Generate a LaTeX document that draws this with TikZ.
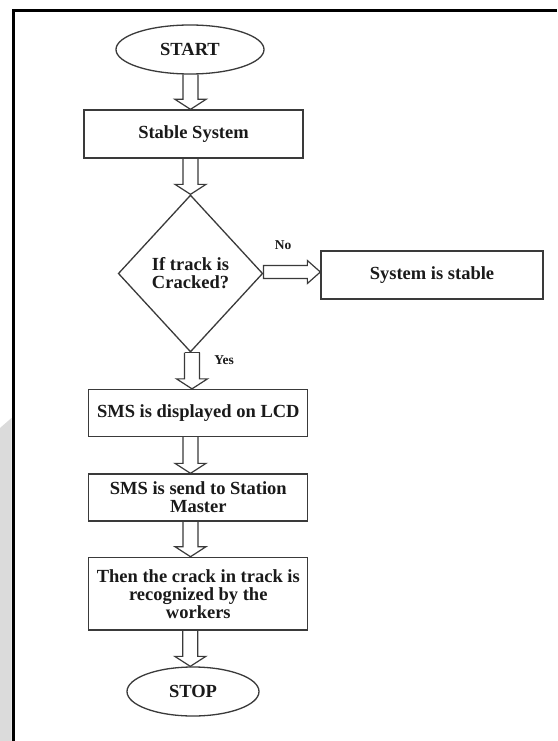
\documentclass[tikz,border=0pt]{standalone}
\usepackage{fontspec}
\setmainfont{Liberation Serif}
\usetikzlibrary{shapes.geometric,calc}
\definecolor{edge}{HTML}{3A3A3A}
\definecolor{ink}{HTML}{1A1A1A}
\tikzset{
  base/.style={draw=edge, line width=1.3pt, text=ink, inner sep=0pt,
    font=\fontsize{18.5}{18}\selectfont\bfseries, align=center},
  oval/.style={base, ellipse},
  procbox/.style={base, rectangle},
  decision/.style={base, diamond},
  lbl/.style={text=ink, inner sep=0pt, font=\fontsize{13.5}{14}\selectfont\bfseries},
  barrow/.style={draw=edge, line width=1.2pt, line join=miter},
}
\newcommand\dnarrow[3]{%
  \draw[barrow] ($(#1.south -| #3,0)+(-7.5,0)$) -- ($(#2.north -| #3,0)+(-7.5,-10)$)
   -- ($(#2.north -| #3,0)+(-15.5,-10)$) -- (#2.north -| #3,0)
   -- ($(#2.north -| #3,0)+(15.5,-10)$) -- ($(#2.north -| #3,0)+(7.5,-10)$)
   -- ($(#1.south -| #3,0)+(7.5,0)$);}
\newcommand\rtarrow[3]{%
  \draw[barrow] ($(#1.east |- 0,#3)+(0,-6.5)$) -- ($(#2.west |- 0,#3)+(-13,-6.5)$)
   -- ($(#2.west |- 0,#3)+(-13,-11.5)$) -- (#2.west |- 0,#3)
   -- ($(#2.west |- 0,#3)+(-13,11.5)$) -- ($(#2.west |- 0,#3)+(-13,6.5)$)
   -- ($(#1.east |- 0,#3)+(0,6.5)$) -- cycle;}
\begin{document}
\begin{tikzpicture}[x=1pt,y=-1pt]
\useasboundingbox (0,0) rectangle (557,741);
\fill[white] (0,0) rectangle (557,741);
\fill[black!14] (0,428) -- (11.5,418) -- (11.5,741) -- (0,741) -- cycle;
\draw[line width=2.7pt, black] (13.3,741) -- (13.3,10.3) -- (557,10.3);

\node[oval, minimum width=148pt, minimum height=49pt] (start) at (190,49.5) {START};
\node[procbox, minimum width=219pt, minimum height=48pt] (stable) at (193.5,134) {Stable System};
\node[decision, minimum width=144.5pt, minimum height=157pt] (dec) at (190.5,273.5) {If track is\\Cracked?};
\node[procbox, minimum width=222pt, minimum height=48pt] (ok) at (432,275) {System is stable};
\node[procbox, minimum width=219pt, minimum height=47pt] (lcd) at (198.3,413) {SMS is displayed on LCD};
\node[procbox, minimum width=219pt, minimum height=47pt, font=\fontsize{18.5}{17.7}\selectfont\bfseries] (send) at (198.3,497.5) {SMS is send to Station\\Master};
\node[procbox, minimum width=219pt, minimum height=72.7pt] (then) at (198.3,593.7) {Then the crack in track is\\recognized by the\\workers};
\node[oval, minimum width=132pt, minimum height=49pt] (stop) at (193,691.5) {STOP};

\node[lbl] (no) at (283,245) {No};
\node[lbl] (yes) at (224,360) {Yes};

\dnarrow{start}{stable}{190.5}
\dnarrow{stable}{dec}{190.5}
\dnarrow{dec}{lcd}{192}
\draw[barrow] ($(dec.south -| 192,0)+(-7.5,0)$) -- ($(dec.south -| 192,0)+(7.5,0)$);
\dnarrow{lcd}{send}{190.5}
\dnarrow{send}{then}{190.5}
\dnarrow{then}{stop}{190.3}
\rtarrow{dec}{ok}{272}
\end{tikzpicture}
\end{document}
